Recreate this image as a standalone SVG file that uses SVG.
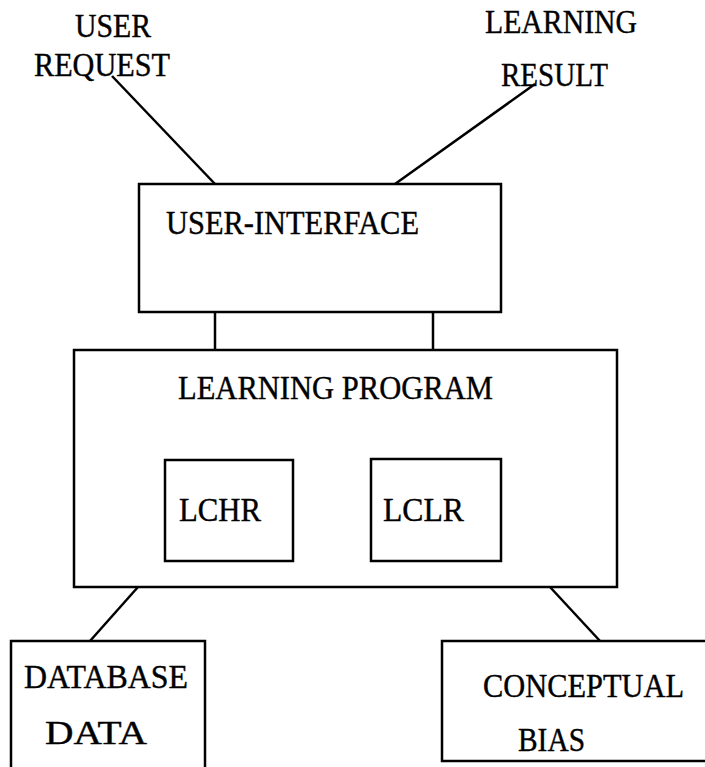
<svg xmlns="http://www.w3.org/2000/svg" width="705" height="767" viewBox="0 0 705 767">
<style>
.box{fill:none;stroke:#000;stroke-width:2.5}
.ln{stroke:#000;stroke-width:2.5;fill:none}
text{font-family:"Liberation Serif","Times New Roman",serif;font-size:33px;fill:#000;stroke:#000;stroke-width:0.4}
</style>
<rect width="705" height="767" fill="#fff"/>
<g id="connectors">
<line class="ln" x1="112" y1="76" x2="215" y2="184"/>
<line class="ln" x1="535" y1="84" x2="395" y2="184"/>
<line class="ln" x1="215" y1="312" x2="215" y2="350"/>
<line class="ln" x1="433" y1="312" x2="433" y2="350"/>
<line class="ln" x1="138" y1="587" x2="90" y2="641"/>
<line class="ln" x1="550" y1="587" x2="600" y2="641"/>
</g>
<g id="user-request">
<text x="75" y="37" textLength="76" lengthAdjust="spacingAndGlyphs">USER</text>
<text x="34" y="76" textLength="136" lengthAdjust="spacingAndGlyphs">REQUEST</text>
</g>
<g id="learning-result">
<text x="485" y="33" textLength="152" lengthAdjust="spacingAndGlyphs">LEARNING</text>
<text x="501" y="86" textLength="107" lengthAdjust="spacingAndGlyphs">RESULT</text>
</g>
<g id="user-interface">
<rect class="box" x="139" y="184" width="362" height="128"/>
<text x="166" y="234" textLength="253" lengthAdjust="spacingAndGlyphs">USER-INTERFACE</text>
</g>
<g id="learning-program">
<rect class="box" x="74" y="350" width="543" height="237"/>
<text x="178" y="399" textLength="315" lengthAdjust="spacingAndGlyphs">LEARNING PROGRAM</text>
</g>
<g id="lchr">
<rect class="box" x="165" y="460" width="128" height="101"/>
<text x="179" y="521" textLength="82" lengthAdjust="spacingAndGlyphs">LCHR</text>
</g>
<g id="lclr">
<rect class="box" x="371" y="459" width="130" height="102"/>
<text x="383" y="521" textLength="81" lengthAdjust="spacingAndGlyphs">LCLR</text>
</g>
<g id="database-data">
<rect class="box" x="11" y="641" width="194" height="130"/>
<text x="24" y="688" textLength="164" lengthAdjust="spacingAndGlyphs">DATABASE</text>
<text x="45" y="744" textLength="102" lengthAdjust="spacingAndGlyphs">DATA</text>
</g>
<g id="conceptual-bias">
<rect class="box" x="442" y="641" width="270" height="120"/>
<text x="483" y="697" textLength="201" lengthAdjust="spacingAndGlyphs">CONCEPTUAL</text>
<text x="518" y="751" textLength="67" lengthAdjust="spacingAndGlyphs">BIAS</text>
</g>
</svg>
